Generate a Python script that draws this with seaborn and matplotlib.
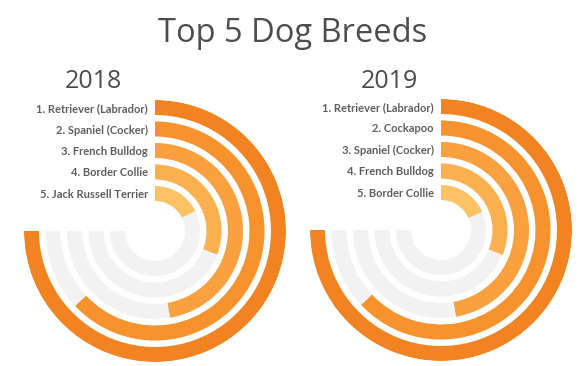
import numpy as np
import pandas as pd
import matplotlib
matplotlib.use("Agg")
import matplotlib.pyplot as plt
import seaborn as sns

# ---- data ----
title = "Top 5 Dog Breeds"
years = ["2018", "2019"]
breeds_2018 = ["1. Retriever (Labrador)", "2. Spaniel (Cocker)", "3. French Bulldog",
               "4. Border Collie", "5. Jack Russell Terrier"]
breeds_2019 = ["1. Retriever (Labrador)", "2. Cockapoo", "3. Spaniel (Cocker)",
               "4. French Bulldog", "5. Border Collie"]
values_2018 = [100, 84, 63, 41, 23.5]
values_2019 = [100, 84, 63, 41.5, 24.5]
scale_max = 100

sns.set_theme(style="white")
plt.rcParams['font.family'] = ['Open Sans', 'DejaVu Sans']

ring_colors = sns.color_palette(["#F18421", "#F7922C", "#F9A03F", "#FBB04F", "#FDC263"])
track_color = "#F2F2F2"

W, H, DPI = 588, 366, 100
fig = plt.figure(figsize=(W / DPI, H / DPI), dpi=DPI)
fig.patch.set_facecolor("white")

R = 131.0
ring_width = 15.0
ring_pitch = 21.5
full_angle = 1.5 * np.pi  # 270 degrees

panels = [
    (years[0], breeds_2018, values_2018, 155, 231, 93),
    (years[1], breeds_2019, values_2019, 441, 230, 389),
]

for year, breeds, values, cx, cy, yx in panels:
    df = pd.DataFrame({"breed": breeds, "value": values})
    df["r"] = [R - ring_width / 2 - i * ring_pitch for i in range(len(df))]
    df["theta"] = df["value"] / scale_max * full_angle

    ax = fig.add_axes([(cx - R) / W, (H - cy - R) / H, 2 * R / W, 2 * R / H],
                      projection="polar")
    ax.set_theta_zero_location("N")
    ax.set_theta_direction(-1)
    ax.set_ylim(0, R)
    # tracks
    ax.barh(df["r"], [full_angle] * len(df), left=0, height=ring_width,
            color=track_color, linewidth=0, align="center")
    # value arcs
    ax.barh(df["r"], df["theta"], left=0, height=ring_width,
            color=ring_colors[:len(df)], linewidth=0, align="center")
    ax.axis("off")

    for _, row in df.iterrows():
        ax.annotate(row["breed"], xy=(0, row["r"]), xycoords="data",
                    xytext=(-7, -4.5), textcoords="offset pixels",
                    ha="right", va="baseline", fontsize=8.0, fontweight="bold",
                    family=["Lato", "DejaVu Sans"],
                    color="#5E5E5E", annotation_clip=False)

    fig.text(yx / W, (H - 88) / H, year, ha="center", va="baseline",
             fontsize=18, color="#4D4D4D")

fig.text(293 / W, (H - 42) / H, title, ha="center", va="baseline",
         fontsize=23.5, color="#4D4D4D")

fig.savefig("out.png", dpi=DPI, facecolor="white")
